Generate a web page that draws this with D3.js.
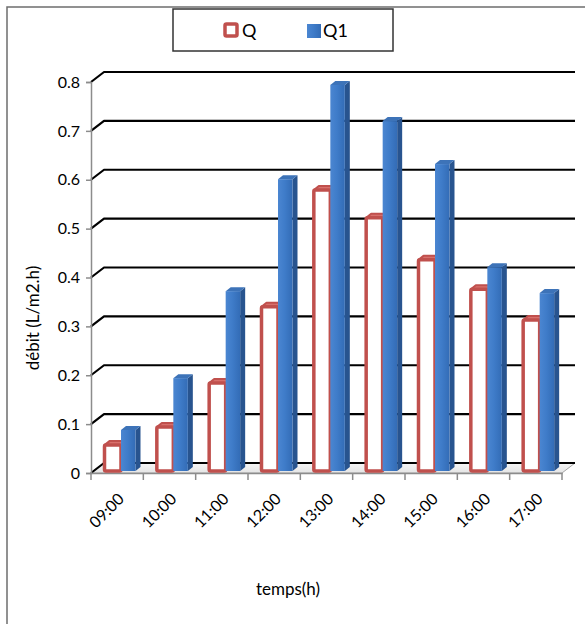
<!DOCTYPE html>
<html>
<head>
<meta charset="utf-8">
<script src="https://cdn.jsdelivr.net/npm/d3@7"></script>
<style>
  html, body { margin: 0; padding: 0; background: #fff; }
  svg { display: block; font-family: Lato, "Noto Sans", sans-serif; }
</style>
</head>
<body>
<svg id="chart" width="585" height="624"></svg>
<script>
// Hourly flux readings
const categories = ["09:00", "10:00", "11:00", "12:00", "13:00", "14:00", "15:00", "16:00", "17:00"];
const seriesNames = ["Q", "Q1"];
const valuesQ  = [0.053, 0.09, 0.18, 0.336, 0.575, 0.518, 0.432, 0.372, 0.309];
const valuesQ1 = [0.084, 0.19, 0.368, 0.597, 0.79, 0.716, 0.628, 0.417, 0.364];
const yTicks = [0, 0.1, 0.2, 0.3, 0.4, 0.5, 0.6, 0.7, 0.8];

const svg = d3.select("#chart");

// Layout
const plotLeft = 91, plotRight = 562, plotBottom = 473, plotTop = 82;
const depthX = 13, depthY = -10;       // floor / back-wall offset
const barShiftY = -2;                  // bars stand slightly behind the front edge
const barDepthX = 5, barDepthY = -4;   // thickness of each 3D column

const x = d3.scaleBand().domain(categories).range([plotLeft, plotRight]).paddingInner(0).paddingOuter(0);
const xInner = d3.scaleBand().domain(seriesNames).range([13.5, 46.5]);
const y = d3.scaleLinear().domain([0, 0.8]).range([plotBottom, plotTop]);

// Gradients
const defs = svg.append("defs");
const gFront = defs.append("linearGradient").attr("id", "blueFront").attr("x1", 0).attr("x2", 1).attr("y1", 0).attr("y2", 0);
gFront.append("stop").attr("offset", "0%").attr("stop-color", "#4b86d1");
gFront.append("stop").attr("offset", "45%").attr("stop-color", "#3f7cc9");
gFront.append("stop").attr("offset", "100%").attr("stop-color", "#336cb6");
const gFloor = defs.append("linearGradient").attr("id", "floorFill").attr("x1", 0).attr("x2", 0).attr("y1", 0).attr("y2", 1);
gFloor.append("stop").attr("offset", "0%").attr("stop-color", "#f7f7f7");
gFloor.append("stop").attr("offset", "100%").attr("stop-color", "#e4e4e4");

// Chart area frame
svg.append("rect").attr("x", 7).attr("y", 7).attr("width", 620).attr("height", 640)
  .attr("fill", "none").attr("stroke", "#6d6d6d").attr("stroke-width", 1.5);

// Floor
const floorPts = [[plotLeft, plotBottom], [plotRight, plotBottom], [plotRight + depthX, plotBottom + depthY], [plotLeft + depthX, plotBottom + depthY]];
svg.append("polygon").attr("points", floorPts.map(p => p.join(",")).join(" "))
  .attr("fill", "url(#floorFill)").attr("stroke", "#a6a6a6").attr("stroke-width", 1);

// Back-wall gridlines
const grid = svg.append("g");
yTicks.forEach(t => {
  const yy = y(t);
  grid.append("path")
    .attr("d", `M${plotLeft},${yy} L${plotLeft + depthX},${yy + depthY} L${plotRight + depthX},${yy + depthY}`)
    .attr("fill", "none").attr("stroke", "#000").attr("stroke-width", 2.2).attr("stroke-linejoin", "round");
});

// Y axis (front edge)
const yAxis = d3.axisLeft(y).tickValues(yTicks).tickFormat(d3.format("")).tickSize(5).tickPadding(6);
const gy = svg.append("g").attr("transform", `translate(${plotLeft},0)`).call(yAxis);
gy.select(".domain").attr("stroke", "#8c8c8c").attr("stroke-width", 1.5);
gy.selectAll(".tick line").attr("stroke", "#8c8c8c").attr("stroke-width", 1.5);
gy.selectAll(".tick text").attr("font-size", 16).attr("fill", "#000").attr("font-family", "Lato, 'Noto Sans', sans-serif");

// X axis
const xAxis = d3.axisBottom(x).tickSize(0).tickFormat("");
const gx = svg.append("g").attr("transform", `translate(0,${plotBottom})`).call(xAxis);
gx.select(".domain").attr("stroke", "#8c8c8c").attr("stroke-width", 1.5);
// category separators
const bounds = categories.map(c => x(c)).concat([plotRight]);
gx.selectAll("line.sep").data(bounds).enter().append("line").attr("class", "sep")
  .attr("x1", d => d).attr("x2", d => d).attr("y1", 0).attr("y2", 7)
  .attr("stroke", "#8c8c8c").attr("stroke-width", 1.5);
// rotated category labels
svg.append("g").selectAll("text").data(categories).enter().append("text")
  .attr("transform", d => `translate(${x(d) + x.bandwidth() / 2 + 8},${plotBottom + 27}) rotate(-45)`)
  .attr("text-anchor", "end").attr("font-size", 16).attr("fill", "#000")
  .text(d => d);

// Columns
const bars = svg.append("g");
const rows = categories.map((c, i) => ({ c, Q: valuesQ[i], Q1: valuesQ1[i] }));

function poly(pts) { return pts.map(p => p.join(",")).join(" "); }

rows.forEach(r => {
  // Q: hollow red column
  {
    const x0 = x(r.c) + xInner("Q"), w = xInner.bandwidth();
    const yb = y(0) + barShiftY, yt = y(r.Q) + barShiftY;
    bars.append("polygon")
      .attr("points", poly([[x0 + w, yt], [x0 + w + barDepthX, yt + barDepthY], [x0 + w + barDepthX, yb + barDepthY], [x0 + w, yb]]))
      .attr("fill", "#a63d3a");
    bars.append("polygon")
      .attr("points", poly([[x0, yt], [x0 + barDepthX, yt + barDepthY], [x0 + w + barDepthX, yt + barDepthY], [x0 + w, yt]]))
      .attr("fill", "#d8706c").attr("stroke", "#c0504d").attr("stroke-width", 2).attr("stroke-linejoin", "round");
    bars.append("rect").attr("x", x0).attr("y", yt).attr("width", w).attr("height", yb - yt)
      .attr("fill", "#fff").attr("stroke", "#c0504d").attr("stroke-width", 3.5).attr("rx", 1.5);
  }
  // Q1: solid blue column
  {
    const x0 = x(r.c) + xInner("Q1"), w = xInner.bandwidth() - 2;
    const yb = y(0) + barShiftY, yt = y(r.Q1) + barShiftY;
    bars.append("polygon")
      .attr("points", poly([[x0 + w, yt], [x0 + w + barDepthX, yt + barDepthY], [x0 + w + barDepthX, yb + barDepthY], [x0 + w, yb]]))
      .attr("fill", "#28548f");
    bars.append("polygon")
      .attr("points", poly([[x0, yt], [x0 + barDepthX, yt + barDepthY], [x0 + w + barDepthX, yt + barDepthY], [x0 + w, yt]]))
      .attr("fill", "#3d73b8");
    bars.append("rect").attr("x", x0).attr("y", yt).attr("width", w).attr("height", yb - yt)
      .attr("fill", "url(#blueFront)");
  }
});

// Axis titles
svg.append("text").attr("transform", "translate(39,318) rotate(-90)")
  .attr("text-anchor", "middle").attr("font-size", 17).attr("fill", "#000").text("débit (L/m2.h)");
svg.append("text").attr("x", 288).attr("y", 595)
  .attr("text-anchor", "middle").attr("font-size", 17).attr("fill", "#000").text("temps(h)");

// Legend
const legend = svg.append("g");
legend.append("rect").attr("x", 173).attr("y", 9).attr("width", 220).attr("height", 42)
  .attr("fill", "#fff").attr("stroke", "#333").attr("stroke-width", 1.5);
legend.append("rect").attr("x", 225).attr("y", 24).attr("width", 12).attr("height", 12)
  .attr("fill", "#fff").attr("stroke", "#c0504d").attr("stroke-width", 3.5).attr("rx", 1.5);
legend.append("text").attr("x", 242).attr("y", 37).attr("font-size", 18).attr("fill", "#000").text(seriesNames[0]);
legend.append("rect").attr("x", 307).attr("y", 24).attr("width", 14).attr("height", 14)
  .attr("fill", "url(#blueFront)");
legend.append("text").attr("x", 323).attr("y", 37).attr("font-size", 18).attr("fill", "#000").text(seriesNames[1]);
</script>
</body>
</html>
